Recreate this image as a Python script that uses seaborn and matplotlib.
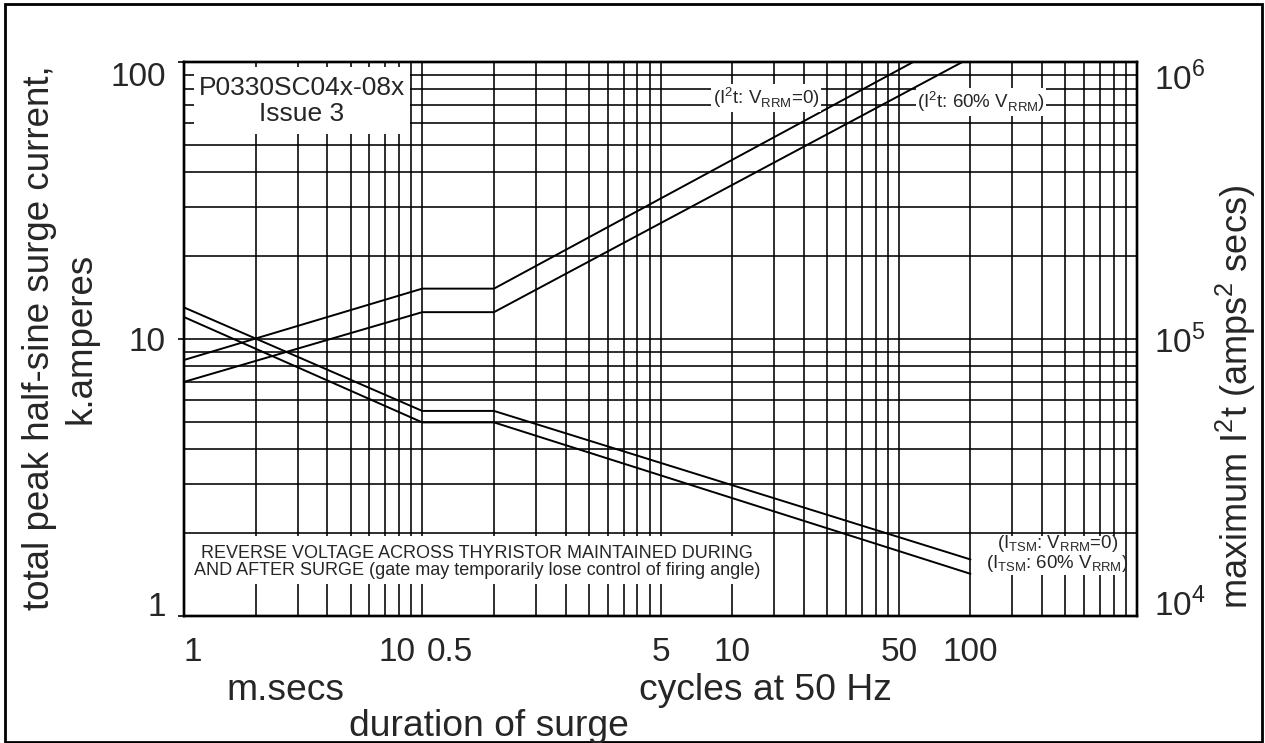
import numpy as np
import pandas as pd
import matplotlib
matplotlib.use("Agg")
import matplotlib.pyplot as plt
import seaborn as sns
from matplotlib.patches import Rectangle
from matplotlib.ticker import LogLocator, NullFormatter

# ---------------- data ----------------
# surge duration in milliseconds (1 cycle at 50 Hz = 20 ms)
itsm_t = [1, 10, 20, 2000]
itsm_v0 = [13.0, 5.5, 5.5, 1.6]       # kA, I_TSM, V_RRM = 0
itsm_v60 = [12.0, 5.0, 5.0, 1.42]     # kA, I_TSM, 60% V_RRM

i2t_t_v0 = [1, 10, 20, 1150]
i2t_v0 = [84000, 152000, 152000, 1000000]    # A^2 s, V_RRM = 0
i2t_t_v60 = [1, 10, 20, 1850]
i2t_v60 = [70000, 125000, 125000, 1000000]   # A^2 s, 60% V_RRM

x_tick_vals = [1, 10, 100, 200, 1000, 2000]
x_tick_labels = ["1", "", "5", "10", "50", "100"]
ms_decade_label = "10"      # at 10 ms, left of the divider
cycle_half_label = "0.5"    # 0.5 cycle = 10 ms, right of the divider
y_tick_vals = [1, 10, 100]
y_tick_labels = ["1", "10", "100"]
y2_tick_vals = [1e4, 1e5, 1e6]
y2_tick_labels = [r"10$^{\mathregular{4}}$", r"10$^{\mathregular{5}}$", r"10$^{\mathregular{6}}$"]

# ---------------- style ----------------
sns.set_style("white")
plt.rcParams["font.family"] = ["Liberation Sans", "DejaVu Sans"]

W, H = 1265, 743
def fx(px):
    return px / W
def fy(py):
    return 1 - py / H

fig = plt.figure(figsize=(W / 100, H / 100), dpi=100)
ax = fig.add_axes([fx(184), fy(616), fx(1137) - fx(184), fy(62) - fy(616)])

ax.set_xscale("log")
ax.set_yscale("log")
ax.set_xlim(1, 1e4)
ax.set_ylim(1, 100)

df_itsm = pd.DataFrame({"t": itsm_t * 2,
                        "I": itsm_v0 + itsm_v60,
                        "s": ["v0"] * 4 + ["v60"] * 4})
for s, g in df_itsm.groupby("s"):
    sns.lineplot(data=g, x="t", y="I", ax=ax, color="black", lw=1.4,
                 sort=False, estimator=None, legend=False)

ax2 = ax.twinx()
ax2.set_yscale("log")
ax2.set_ylim(1e4, 1e6)
df_i2t = pd.DataFrame({"t": i2t_t_v0 + i2t_t_v60,
                       "v": i2t_v0 + i2t_v60,
                       "s": ["v0"] * 4 + ["v60"] * 4})
for s, g in df_i2t.groupby("s"):
    sns.lineplot(data=g, x="t", y="v", ax=ax2, color="black", lw=1.4,
                 sort=False, estimator=None, legend=False)
ax2.set_xlim(1, 1e4)
ax2.set_ylabel("")
ax.set_xlabel("")
ax.set_ylabel("")

# grid (log paper)
ax.xaxis.set_minor_locator(LogLocator(base=10, subs=np.arange(2, 10)))
ax.yaxis.set_minor_locator(LogLocator(base=10, subs=np.arange(2, 10)))
ax.xaxis.set_minor_formatter(NullFormatter())
ax.yaxis.set_minor_formatter(NullFormatter())
ax.grid(True, which="both", color="black", lw=1.15)
ax.set_axisbelow(True)

for sp in list(ax.spines.values()) + list(ax2.spines.values()):
    sp.set_color("black")
    sp.set_linewidth(1.7)

# ticks
ax.set_xticks(x_tick_vals)
ax.set_xticklabels(x_tick_labels, fontsize=24)
ax.set_yticks(y_tick_vals)
ax.set_yticklabels(y_tick_labels, fontsize=24)
ax.tick_params(axis="x", which="major", direction="out", length=4, width=1.2,
               color="black", pad=11)
ax.tick_params(axis="y", which="major", direction="out", length=4, width=1.2,
               color="black", pad=9)
ax.tick_params(which="minor", length=0)
xt = ax.xaxis.get_major_ticks()
xl = ax.get_xticklabels()
xl[0].set_ha("left")
xt[1].tick1line.set_markersize(20)
xt[0].tick1line.set_markersize(12)
yl = ax.get_yticklabels()
yl[0].set_va("baseline")
yl[2].set_va("top")

# the two labels that share the 10 ms / 0.5 cycle position
ax.annotate(ms_decade_label, xy=(10, 0), xycoords=("data", "axes fraction"),
            xytext=(-5, -15), textcoords="offset points", ha="right", va="top",
            fontsize=24)
ax.annotate(cycle_half_label, xy=(10, 0), xycoords=("data", "axes fraction"),
            xytext=(3, -15), textcoords="offset points", ha="left", va="top",
            fontsize=24)

ax2.set_yticks(y2_tick_vals)
ax2.set_yticklabels(y2_tick_labels, fontsize=24)
ax2.yaxis.set_minor_formatter(NullFormatter())
ax2.tick_params(axis="y", which="both", length=0, pad=12)
y2l = ax2.get_yticklabels()
y2l[0].set_va("baseline")
y2l[2].set_va("top")

# white label boxes that interrupt the grid
ax.add_patch(Rectangle((1.1, 55), 8.9 - 1.1, 96 - 55, facecolor="white",
                       edgecolor="none", zorder=1.5))
ax.add_patch(Rectangle((1.0, 1.3), 284 - 1.0, 1.95 - 1.3, facecolor="white",
                       edgecolor="none", zorder=1.5))
ax.add_patch(Rectangle((2250, 1.41), 8800 - 2250, 1.95 - 1.41, facecolor="white",
                       edgecolor="none", zorder=1.5))

# texts inside the chart
fig.text(fx(302), fy(101), "P0330SC04x-08x\nIssue 3", ha="center", va="center",
         fontsize=19, linespacing=1.1)
fig.text(fx(477), fy(562),
         "REVERSE VOLTAGE ACROSS THYRISTOR MAINTAINED DURING\n"
         "AND AFTER SURGE (gate may temporarily lose control of firing angle)",
         ha="center", va="center", fontsize=13, linespacing=1.05,
         multialignment="center")
lbl_box = dict(facecolor="white", edgecolor="none", pad=1.0)
fig.text(fx(766), fy(98), r"(I$^{\mathregular{2}}$t: V$_{\mathregular{RRM}}$=0)",
         ha="center", va="center", fontsize=13.5, bbox=lbl_box)
fig.text(fx(981), fy(102), r"(I$^{\mathregular{2}}$t: 60% V$_{\mathregular{RRM}}$)",
         ha="center", va="center", fontsize=13.5, bbox=lbl_box)
fig.text(fx(1058), fy(543), r"(I$_{\mathregular{TSM}}$: V$_{\mathregular{RRM}}$=0)",
         ha="center", va="center", fontsize=13.4)
fig.text(fx(1057), fy(563), r"(I$_{\mathregular{TSM}}$: 60% V$_{\mathregular{RRM}}$)",
         ha="center", va="center", fontsize=13.4)

# axis titles
fig.text(fx(285), fy(691), "m.secs", ha="center", va="center", fontsize=26.8)
fig.text(fx(765), fy(691), "cycles at 50 Hz", ha="center", va="center", fontsize=26.8)
fig.text(fx(489), fy(726), "duration of surge", ha="center", va="center", fontsize=26.8)
fig.text(fx(60), fy(338), "total peak half-sine surge current,\nk.amperes",
         ha="center", va="center", rotation=90, fontsize=26.5, linespacing=1.25,
         multialignment="center")
fig.text(fx(1236), fy(397),
         r"maximum I$^{\mathregular{2}}$t (amps$^{\mathregular{2}}$ secs)",
         ha="center", va="center", rotation=90, fontsize=26)

# outer frame
fig.patches.append(Rectangle((fx(5), fy(742)), fx(1262) - fx(5), fy(4) - fy(742),
                             transform=fig.transFigure, fill=False,
                             edgecolor="black", lw=2))

fig.savefig("out.png", dpi=100)
